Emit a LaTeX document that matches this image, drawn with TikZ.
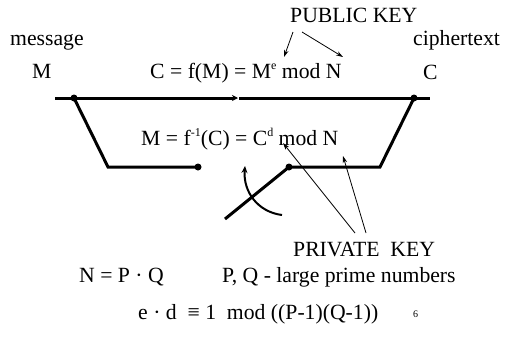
\documentclass[tikz,border=0pt]{standalone}
\usepackage{fontspec}
\setmainfont{Liberation Serif}
\newfontfamily\timesfont{Liberation Serif}
\newcommand{\mysup}[1]{\raisebox{0.38em}{\fontsize{12}{12}\selectfont #1}}
\usetikzlibrary{arrows.meta}
\begin{document}
\begin{tikzpicture}[x=1pt,y=-1pt,
  txt/.style={inner sep=0pt, anchor=base west, font=\timesfont\fontsize{21.7}{26}\selectfont},
  thickline/.style={line width=3pt},
  thinarrow/.style={line width=0.8pt, -{Stealth[length=7pt,width=4.5pt]}},
  dotmark/.style={circle, fill, inner sep=0pt, minimum size=7pt}]
\useasboundingbox (0,0) rectangle (505,354);
% texts
\node[txt] (pub) at (290,22.7) {PUBLIC KEY};
\node[txt] (msg) at (10,45) {message};
\node[txt] (ct) at (413,45) {ciphertext};
\node[txt] (M) at (32,78) {M};
\node[txt] (C) at (423,79) {C};
\node[txt] (enc) at (150,78) {C = f(M) = M\mysup{e} mod N};
\node[txt] (dec) at (141,145) {M = f\mysup{-1}(C) = C\mysup{d} mod N};
\node[txt] (priv) at (293,256) {PRIVATE\ \ KEY};
\node[txt] (npq) at (79,282) {N = P · Q};
\node[txt] (pq) at (222,282) {P, Q - large prime numbers};
\node[txt] (ed) at (138,319) {e · d \ ≡ 1 \ mod ((P-1)(Q-1))};
\node[inner sep=0pt, anchor=base west, font=\timesfont\fontsize{10}{12}\selectfont] (pg) at (413,317) {6};
% points
\coordinate (L0) at (55,98);
\coordinate (A) at (74,98);
\coordinate (tip) at (238,98);
\coordinate (tipb) at (239,98);
\coordinate (R0) at (430,98);
\coordinate (B) at (414,98);
\coordinate (BL) at (108,167);
\coordinate (BLd) at (198,167);
\coordinate (BRd) at (289,167);
\coordinate (BR) at (380,167);
\coordinate (lev) at (225,219);
\coordinate (cur0) at (282,215);
\coordinate (cur1) at (245,166);
\coordinate (pk0) at (293,32);
\coordinate (pk1) at (302,32);
\coordinate (pkt0) at (284,57);
\coordinate (pkt1) at (343,57);
\coordinate (sk0) at (355,233);
\coordinate (sk1) at (366,233);
\coordinate (skt0) at (283,143);
\coordinate (skt1) at (343,156);
% thick lines
\draw[thickline, -{Stealth[length=6pt,width=6pt]}] (L0) -- (tip);
\draw[thickline] (tipb) -- (R0);
\draw[thickline] (A) -- (BL) -- (BLd);
\draw[thickline] (BRd) -- (BR) -- (B);
\draw[thickline] (lev) -- (BRd);
\node[dotmark] (dA) at (A) {};
\node[dotmark] (dB) at (B) {};
\node[dotmark] (dL) at (BLd) {};
\node[dotmark] (dR) at (BRd) {};
\draw[line width=2pt, -{Stealth[length=7pt,width=6pt]}] (cur0) .. controls (258,212) and (243,192) .. (cur1);
% thin arrows
\draw[thinarrow] (pk0) -- (pkt0);
\draw[thinarrow] (pk1) -- (pkt1);
\draw[thinarrow] (sk0) -- (skt0);
\draw[thinarrow] (sk1) -- (skt1);
\end{tikzpicture}
\end{document}
